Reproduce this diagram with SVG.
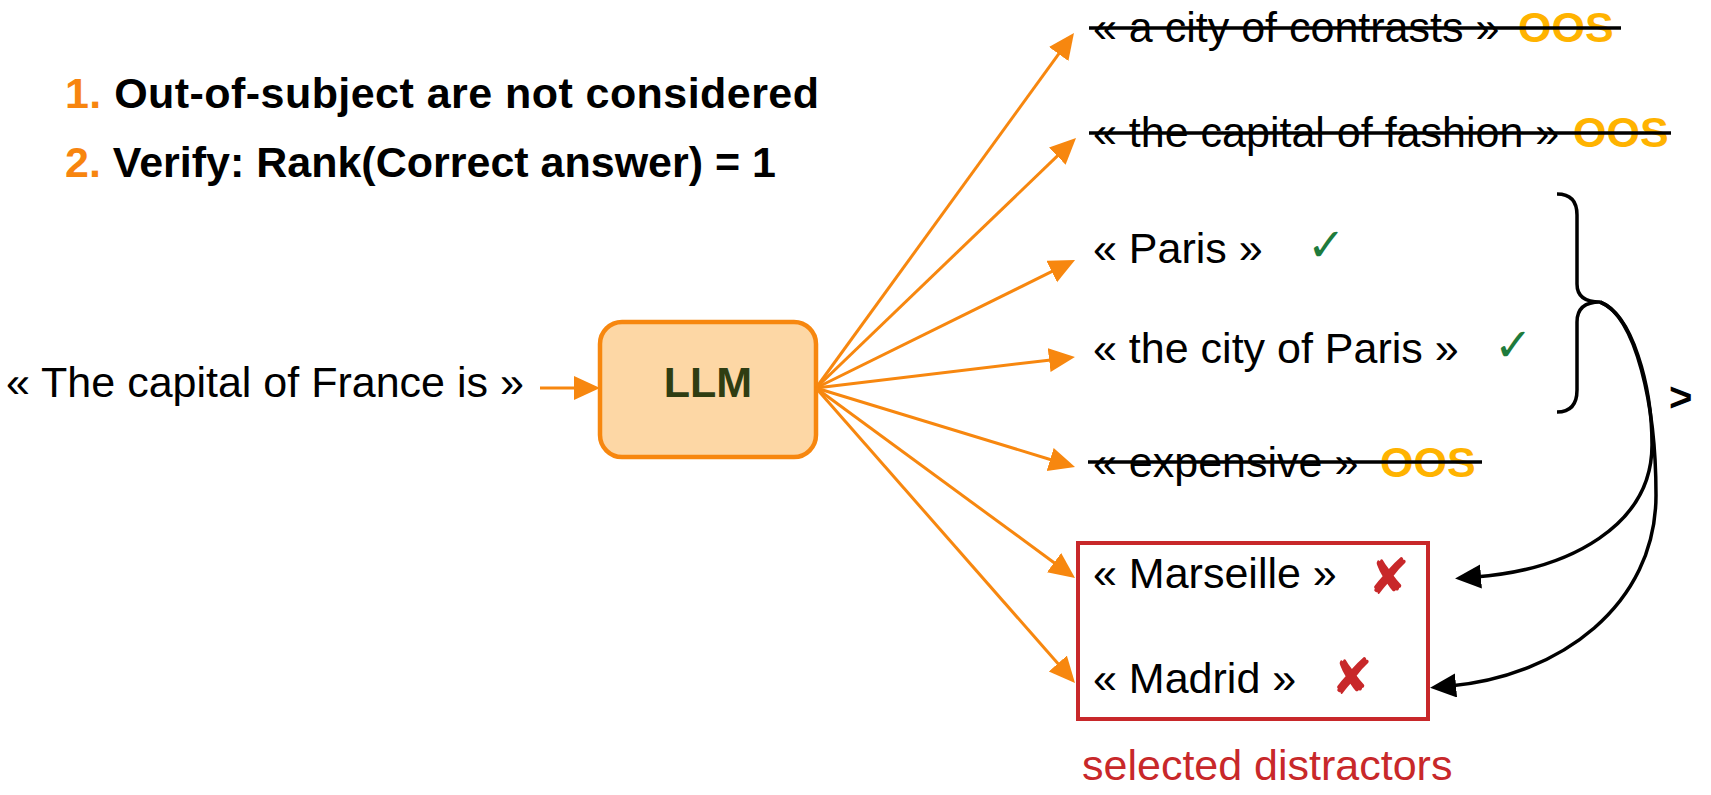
<svg xmlns="http://www.w3.org/2000/svg" width="1711" height="795" viewBox="0 0 1711 795">
<style>
text{font-family:"Liberation Sans",Arial,Helvetica,sans-serif;font-size:43px;fill:#000}
.b{font-weight:bold}
.num{fill:#F7850F}
.oos{font-weight:bold;fill:#FFB300}
.fan{stroke:#F7870F;stroke-width:3;fill:none;marker-end:url(#ao)}
.blk{stroke:#000;stroke-width:3.5;fill:none}
.strike{stroke:#000;stroke-width:3.5}
.ok{font-family:"DejaVu Sans",sans-serif;font-size:46px;fill:#1E7B3C}
.ko{font-family:"DejaVu Sans",sans-serif;font-size:50px;fill:#C8282A}
.red{fill:#C8282A}
</style>
<defs>
<marker id="ao" markerUnits="userSpaceOnUse" markerWidth="28" markerHeight="26" refX="6" refY="12" orient="auto">
<path d="M0,0 L26,12 L0,24 z" fill="#F7870F"/>
</marker>
<marker id="ab" markerUnits="userSpaceOnUse" markerWidth="28" markerHeight="26" refX="6" refY="12" orient="auto">
<path d="M0,0 L26,12 L0,24 z" fill="#000"/>
</marker>
</defs>
<rect width="1711" height="795" fill="#fff"/>

<g id="steps">
<text x="65" y="108" class="b" textLength="754" lengthAdjust="spacing"><tspan class="num">1.</tspan> Out-of-subject are not considered</text>
<text x="65" y="177" class="b"><tspan class="num">2.</tspan> Verify: Rank(Correct answer) = 1</text>
</g>

<g id="input">
<text x="6" y="397">« The capital of France is »</text>
</g>

<g id="llm">
<rect x="600" y="322" width="216" height="135" rx="22" fill="#FDD7A5" stroke="#F7870F" stroke-width="4.5"/>
<text x="708" y="397" class="b" text-anchor="middle" style="fill:#2F3D12">LLM</text>
</g>

<g id="connectors">
<path class="fan" d="M540,388 L580,388"/>
<path class="fan" d="M816,388 L1062.2,49.2"/>
<path class="fan" d="M816,388 L1061.6,151.9"/>
<path class="fan" d="M816,388 L1057.1,268.9"/>
<path class="fan" d="M816,388 L1055.1,359.4"/>
<path class="fan" d="M816,388 L1055.9,461.2"/>
<path class="fan" d="M816,388 L1058.9,566.2"/>
<path class="fan" d="M816,388 L1061.8,668"/>
<path class="blk" marker-end="url(#ab)" d="M1600,302 C1632,314 1652,385 1652,445 C1652,525 1570,570 1475,577"/>
<path class="blk" marker-end="url(#ab)" d="M1600,302 C1636,316 1656,405 1656,495 C1656,605 1560,676 1450,686"/>
</g>

<g id="opt1">
<text x="1093" y="42">« a city of contrasts »</text>
<text x="1518" y="42" class="oos">OOS</text>
<line class="strike" x1="1089" y1="28" x2="1621" y2="28"/>
</g>
<g id="opt2">
<text x="1093" y="147">« the capital of fashion »</text>
<text x="1573" y="147" class="oos">OOS</text>
<line class="strike" x1="1089" y1="133" x2="1671" y2="133"/>
</g>
<g id="opt3">
<text x="1307" y="261" class="ok">✓</text>
<text x="1093" y="263">« Paris »</text>
</g>
<g id="opt4">
<text x="1093" y="363">« the city of Paris »</text>
<text x="1494" y="361" class="ok">✓</text>
</g>
<g id="opt5">
<text x="1093" y="477">« expensive »</text>
<text x="1380" y="477" class="oos">OOS</text>
<line class="strike" x1="1088" y1="462" x2="1482" y2="462"/>
</g>

<g id="distractors">
<rect x="1078" y="543" width="350" height="176" fill="none" stroke="#C8282A" stroke-width="4"/>
<text x="1093" y="588">« Marseille »</text>
<text x="1368" y="594" class="ko">✘</text>
<text x="1093" y="693">« Madrid »</text>
<text x="1331" y="694" class="ko">✘</text>
<text x="1082" y="780" class="red">selected distractors</text>
</g>

<g id="brace">
<path class="blk" d="M1557,194 Q1577,194 1577,215 L1577,284 Q1577,302 1600,302 Q1577,302 1577,322 L1577,390 Q1577,412 1557,412"/>
<text x="1669" y="411" class="b" style="font-size:40px">&gt;</text>
</g>
</svg>
